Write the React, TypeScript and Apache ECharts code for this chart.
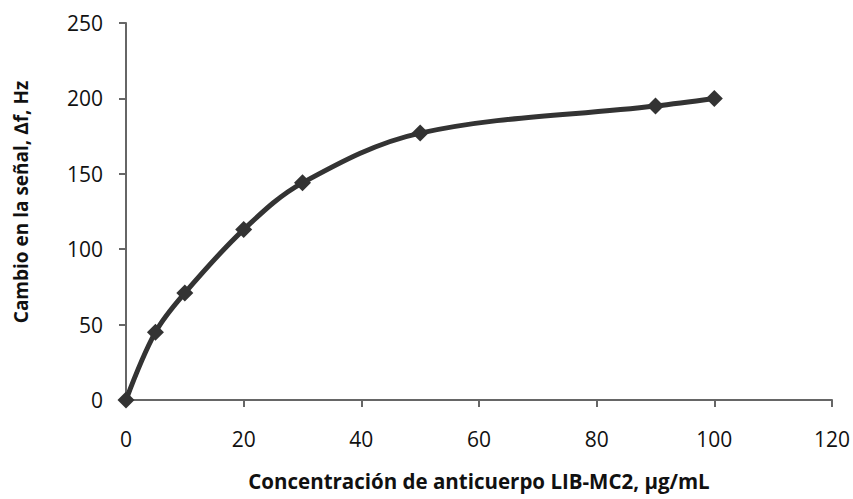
import React, { useEffect, useRef } from "react";
import * as echarts from "echarts";

const concentration = [0, 5, 10, 20, 30, 50, 90, 100];
const signal = [0, 45, 71, 113, 144, 177, 195, 200];
const xTitle = "Concentración de anticuerpo LIB-MC2, µg/mL";
const yTitle = "Cambio en la señal, ∆f, Hz";

export default function App() {
  const ref = useRef<HTMLDivElement>(null);
  useEffect(() => {
    if (!ref.current) return;
    const chart = echarts.init(ref.current, undefined, { renderer: "svg" });
    const font = "'Open Sans', sans-serif";
    chart.setOption({
      animation: false,
      backgroundColor: "#fff",
      grid: { left: 126, right: 19, top: 23, bottom: 99 },
      graphic: [
        {
          type: "text",
          x: 21,
          y: 202,
          rotation: Math.PI / 2,
          style: {
            text: yTitle,
            fontFamily: font,
            fontSize: 19,
            fontWeight: "bold",
            fill: "#111",
            textAlign: "center",
            textVerticalAlign: "middle",
          },
        },
      ],
      xAxis: {
        type: "value",
        min: 0,
        max: 120,
        interval: 20,
        name: xTitle,
        nameLocation: "middle",
        nameGap: 70,
        nameTextStyle: { fontFamily: font, fontSize: 20.5, fontWeight: "bold", color: "#111" },
        axisLine: { lineStyle: { color: "#666", width: 2 } },
        axisTick: { show: true, length: 7, lineStyle: { color: "#666", width: 2 } },
        axisLabel: { fontFamily: font, fontSize: 21, color: "#111", margin: 28 },
        splitLine: { show: false },
      },
      yAxis: {
        type: "value",
        min: 0,
        max: 250,
        interval: 50,
        axisLine: { show: true, lineStyle: { color: "#666", width: 2 } },
        axisTick: { show: true, length: 7, lineStyle: { color: "#666", width: 2 } },
        axisLabel: { fontFamily: font, fontSize: 21, color: "#111", margin: 23 },
        splitLine: { show: false },
      },
      series: [
        {
          type: "line",
          data: concentration.map((x, i) => [x, signal[i]]),
          smooth: 0.35,
          symbol: "diamond",
          symbolSize: 17,
          itemStyle: { color: "#333" },
          lineStyle: { color: "#333", width: 5 },
        },
      ],
    });
    return () => chart.dispose();
  }, []);
  return <div ref={ref} style={{ width: 853, height: 499, position: "absolute", left: 0, top: 0 }} />;
}
